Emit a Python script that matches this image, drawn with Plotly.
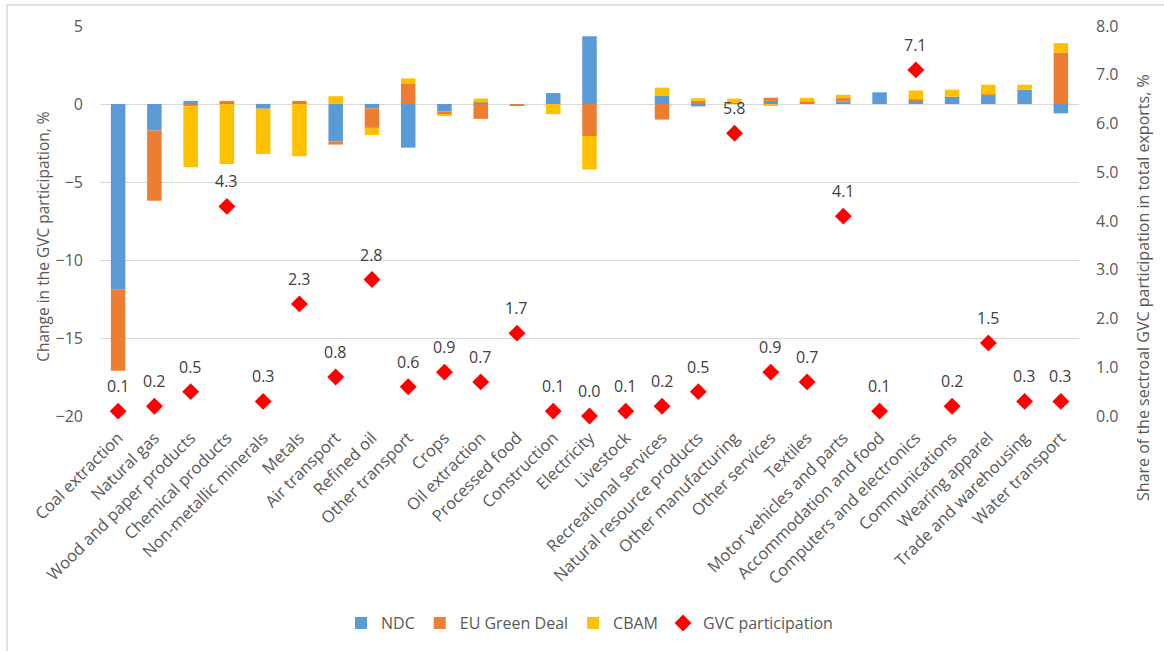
import plotly.graph_objects as go

# Sectors, in display order
sectors = [
    "Coal extraction", "Natural gas", "Wood and paper products", "Chemical products",
    "Non-metallic minerals", "Metals", "Air transport", "Refined oil", "Other transport",
    "Crops", "Oil extraction", "Processed food", "Construction", "Electricity",
    "Livestock", "Recreational services", "Natural resource products",
    "Other manufacturing", "Other services", "Textiles", "Motor vehicles and parts",
    "Accommodation and food", "Computers and electronics", "Communications",
    "Wearing apparel", "Trade and warehousing", "Water transport",
]

# Change in GVC participation by policy scenario, %
ndc = [-11.9, -1.7, 0.2, 0.1, -0.3, 0.05, -2.4, -0.28, -2.8,
       -0.47, 0.1, 0.0, 0.7, 4.35,
       0.0, 0.55, -0.15,
       0.02, 0.2, 0.12, 0.17,
       0.75, 0.2, 0.47,
       0.57, 0.92, -0.6]
eu_green_deal = [-5.2, -4.5, -0.15, 0.1, 0.0, 0.15, -0.2, -1.25, 1.28,
                 -0.2, -0.95, -0.1, 0.0, -2.05,
                 0.0, -1.0, 0.2,
                 0.05, 0.2, 0.03, 0.21,
                 0.0, 0.1, 0.0,
                 0.05, 0.0, 3.3]
cbam = [0.0, 0.0, -3.9, -3.85, -2.9, -3.35, 0.5, -0.45, 0.36,
        -0.1, 0.25, 0.0, -0.65, -2.15,
        0.0, 0.5, 0.17,
        0.28, -0.1, 0.25, 0.21,
        0.0, 0.57, 0.45,
        0.62, 0.32, 0.6]

# Share of sectoral GVC participation in total exports, %
gvc_share = [0.1, 0.2, 0.5, 4.3, 0.3, 2.3, 0.8, 2.8, 0.6,
             0.9, 0.7, 1.7, 0.1, 0.0,
             0.1, 0.2, 0.5,
             5.8, 0.9, 0.7, 4.1,
             0.1, 7.1, 0.2,
             1.5, 0.3, 0.3]

FONT = "Open Sans"
GREY = "#595959"

fig = go.Figure()

bar_series = [
    ("NDC", ndc, "#5B9BD5"),
    ("EU Green Deal", eu_green_deal, "#ED7D31"),
    ("CBAM", cbam, "#FFC000"),
]
for name, vals, color in bar_series:
    fig.add_trace(go.Bar(
        x=sectors, y=vals, name=name, width=0.4,
        marker=dict(color=color, line=dict(width=0)),
        yaxis="y",
    ))

fig.add_trace(go.Scatter(
    x=sectors, y=gvc_share, name="GVC participation", yaxis="y2",
    mode="markers",
    marker=dict(symbol="diamond", size=13, color="#FF0000"),
    cliponaxis=False,
))

# value labels above each diamond
value_labels = [
    dict(x=s, y=v, xref="x", yref="y2", text=f"{v:.1f}", showarrow=False,
         yshift=25, font=dict(family=FONT, size=16, color="#404040"))
    for s, v in zip(sectors, gvc_share)
]

fig.update_layout(
    width=1164, height=651,
    margin=dict(l=100, r=85, t=26, b=234),
    paper_bgcolor="white", plot_bgcolor="white",
    barmode="relative",
    font=dict(family=FONT, color=GREY),
    showlegend=True,
    legend=dict(
        orientation="h", x=0.5, xanchor="center", y=-0.527, yanchor="middle",
        font=dict(family=FONT, size=16, color=GREY),
        itemwidth=30, traceorder="normal",
    ),
    xaxis=dict(
        tickangle=-45, tickfont=dict(family=FONT, size=16.5, color=GREY),
        showline=False, showgrid=False, ticks="",
        range=[-0.5, len(sectors) - 0.5],
        ticklabelstandoff=8,
    ),
    yaxis=dict(
        range=[-20, 5], dtick=5, tick0=0,
        showgrid=True, gridcolor="#D9D9D9", gridwidth=1,
        zeroline=True, zerolinecolor="#D9D9D9", zerolinewidth=1,
        showline=False, ticks="",
        tickfont=dict(family=FONT, size=16, color=GREY),
        ticklabelstandoff=16,
    ),
    yaxis2=dict(
        range=[0, 8], dtick=1, tick0=0, tickformat=".1f",
        overlaying="y", side="right",
        showgrid=False, zeroline=False, showline=False, ticks="",
        tickfont=dict(family=FONT, size=16, color=GREY),
        ticklabelstandoff=16,
    ),
    annotations=value_labels + [
        dict(text="Change in the GVC participation, %", textangle=-90,
             xref="paper", yref="paper", x=-0.059, y=0.46,
             xanchor="center", yanchor="middle", showarrow=False,
             font=dict(family=FONT, size=15.5, color=GREY)),
        dict(text="Share of the sectroal GVC participation in total exports, %",
             textangle=-90, xref="paper", yref="paper", x=1.066, y=0.33,
             xanchor="center", yanchor="middle", showarrow=False,
             font=dict(family=FONT, size=16, color=GREY)),
    ],
    shapes=[
        dict(type="rect", xref="paper", yref="paper",
             x0=-0.095, x1=1.3, y0=-1.0, y1=1.054,
             line=dict(color="#D9D9D9", width=1.5), fillcolor="rgba(0,0,0,0)",
             layer="below"),
    ],
)

fig.write_html("out.html")
